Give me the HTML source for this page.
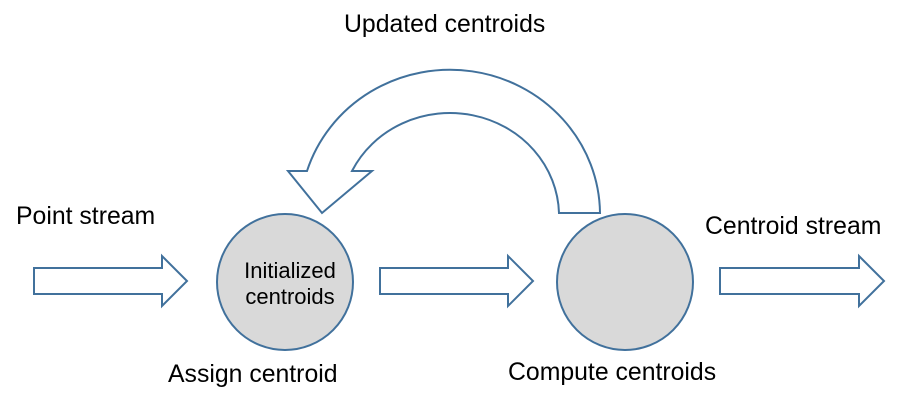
<!DOCTYPE html>
<html><head><style>
html,body{margin:0;padding:0;background:#fff;}
</style></head><body>
<svg width="898" height="402" viewBox="0 0 898 402" xmlns="http://www.w3.org/2000/svg" font-family="Liberation Sans, Arial, sans-serif" fill="#000">
<g fill="#fff" stroke="#41719c" stroke-width="2">
<path d="M600,213 A150,145 0 0 0 307,171 L288,171 L322,213 L372,171 L352,171 A109,103 0 0 1 559,213 Z"/>
<path d="M34,268 L162,268 L162,256 L187,281 L162,306 L162,294 L34,294 Z"/>
<path d="M380,268 L508,268 L508,256 L533,281 L508,306 L508,294 L380,294 Z"/>
<path d="M720,268 L859,268 L859,256 L884,281 L859,306 L859,294 L720,294 Z"/>
<circle cx="285" cy="282" r="68" fill="#d9d9d9"/>
<circle cx="625" cy="282" r="68" fill="#d9d9d9"/>
</g>
<g font-size="24.8">
<text x="344" y="32">Updated centroids</text>
<text x="16" y="224">Point stream</text>
<text x="705" y="234">Centroid stream</text>
<text x="168" y="382">Assign centroid</text>
<text x="508" y="380">Compute centroids</text>
</g>
<g font-size="22" text-anchor="middle">
<text x="290" y="278">Initialized</text>
<text x="290" y="304">centroids</text>
</g>
</svg>
</body></html>
